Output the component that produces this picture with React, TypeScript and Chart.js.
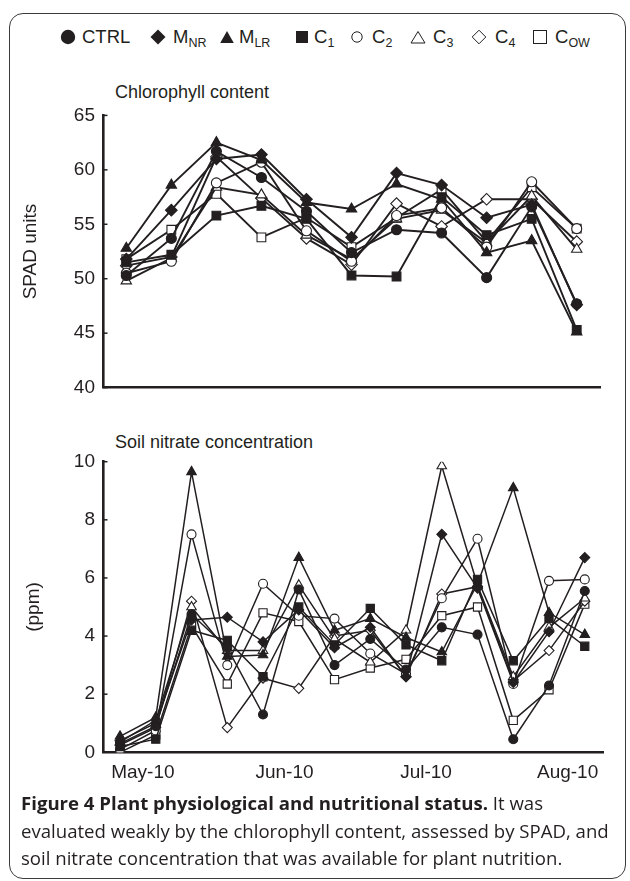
import React, { useEffect, useRef } from "react";
import { Chart, registerables } from "chart.js";
Chart.register(...registerables);

const INK = "#231f20";
const FONT = "'Liberation Sans', Arial, Helvetica, sans-serif";

// ---- series definitions ----
const seriesNames = ["CTRL", "M_NR", "M_LR", "C1", "C2", "C3", "C4", "C_OW"];
const seriesStyles = ["circle", "rectRot", "triangle", "rect", "circle", "triangle", "rectRot", "rect"];
const seriesFilled = [true, true, true, true, false, false, false, false];

// ---- chlorophyll content (SPAD units), 11 samplings ----
const chlSamples = [0, 1, 2, 3, 4, 5, 6, 7, 8, 9, 10];
const chlCTRL = [50.3, 53.7, 61.7, 59.3, 56.2, 52.4, 54.5, 54.2, 50.1, 56.6, 47.7];
const chlMNR = [51.8, 56.3, 61.0, 61.4, 57.3, 53.8, 59.7, 58.6, 55.6, 56.8, 47.6];
const chlMLR = [52.8, 58.6, 62.5, 60.9, 57.0, 56.4, 58.7, 57.3, 52.4, 53.5, 45.1];
const chlC1 = [51.5, 52.2, 55.8, 56.7, 55.5, 50.3, 50.2, 57.5, 54.0, 55.5, 45.3];
const chlC2 = [50.5, 51.6, 58.8, 60.7, 54.4, 51.6, 55.8, 56.5, 52.9, 58.9, 54.6];
const chlC3 = [49.8, 51.9, 58.4, 57.7, 54.0, 51.8, 55.5, 56.3, 53.3, 57.6, 52.7];
const chlC4 = [51.2, 52.0, 61.2, 57.4, 53.7, 51.3, 56.9, 54.8, 57.3, 57.3, 53.4];
const chlCOW = [51.8, 54.5, 57.8, 53.8, 55.6, 52.9, 55.6, 58.2, 53.4, 58.4, 54.6];
const chlTicks = [40, 45, 50, 55, 60, 65];

// ---- soil nitrate concentration (ppm), 14 samplings ----
const no3Samples = [0, 1, 2, 3, 4, 5, 6, 7, 8, 9, 10, 11, 12, 13];
const no3CTRL = [0.3, 0.9, 4.75, 3.6, 1.3, 5.6, 3.0, 3.9, 2.85, 4.3, 4.05, 0.45, 2.3, 5.55];
const no3MNR = [0.4, 1.0, 4.55, 4.65, 3.8, 4.9, 3.6, 4.3, 2.6, 7.5, 5.65, 2.4, 4.15, 6.7];
const no3MLR = [0.55, 1.2, 9.65, 3.3, 3.35, 6.7, 4.2, 4.6, 3.95, 3.45, 5.8, 9.1, 4.8, 4.05];
const no3C1 = [0.2, 0.45, 4.2, 3.85, 2.6, 5.0, 3.7, 4.95, 3.7, 3.15, 5.95, 3.15, 4.6, 3.65];
const no3C2 = [0.1, 0.75, 7.5, 3.0, 5.8, 4.7, 4.6, 3.4, 2.7, 5.3, 7.35, 2.35, 5.9, 5.95];
const no3C3 = [0.35, 1.1, 5.0, 3.5, 3.5, 5.75, 3.9, 3.1, 4.2, 9.85, 5.75, 2.6, 4.3, 5.3];
const no3C4 = [0.25, 0.85, 5.2, 0.85, 2.55, 2.2, 4.0, 4.2, 2.6, 5.45, 5.7, 2.45, 3.5, 5.2];
const no3COW = [0.0, 0.6, 4.35, 2.35, 4.8, 4.5, 2.5, 2.9, 3.2, 4.7, 5.0, 1.1, 2.15, 5.1];
const no3Ticks = [0, 2, 4, 6, 8, 10];

// month tick labels located along the sampling index axis
const monthLabels = ["May-10", "Jun-10", "Jul-10", "Aug-10"];
const monthPositions = [0.64, 4.6, 8.56, 12.52];

type Sizes = Record<string, number>;

function buildDatasets(xs: number[], series: number[][], sizes: Sizes, lw: number) {
  return series.map((vals, k) => ({
    label: seriesNames[k],
    data: vals.map((v, i) => ({ x: xs[i], y: v })),
    borderColor: INK,
    borderWidth: lw,
    pointStyle: seriesStyles[k],
    pointRadius: sizes[seriesStyles[k]],
    pointHoverRadius: sizes[seriesStyles[k]],
    pointBackgroundColor: seriesFilled[k] ? INK : "#ffffff",
    pointBorderColor: INK,
    pointBorderWidth: 1.1,
    tension: 0,
    fill: false,
  }));
}

const inwardTicks = {
  id: "inwardTicks",
  afterDraw(chart: any) {
    const y = chart.scales.y;
    const ctx = chart.ctx;
    ctx.save();
    ctx.strokeStyle = INK;
    ctx.lineWidth = 1.5;
    y.ticks.forEach((t: any) => {
      const py = y.getPixelForValue(t.value);
      ctx.beginPath();
      ctx.moveTo(chart.chartArea.left, py);
      ctx.lineTo(chart.chartArea.left + 4.5, py);
      ctx.stroke();
    });
    ctx.restore();
  },
};

function ChartCanvas({ config, style }: { config: any; style: React.CSSProperties }) {
  const ref = useRef<HTMLCanvasElement | null>(null);
  useEffect(() => {
    if (!ref.current) return;
    const chart = new Chart(ref.current, config);
    return () => chart.destroy();
  }, []);
  return (
    <div style={{ position: "absolute", ...style }}>
      <canvas ref={ref} />
    </div>
  );
}

function topConfig() {
  return {
    type: "line",
    data: {
      datasets: buildDatasets(
        chlSamples,
        [chlCTRL, chlMNR, chlMLR, chlC1, chlC2, chlC3, chlC4, chlCOW],
        { circle: 5, rectRot: 5.8, triangle: 6, rect: 6.2 },
        1.9
      ),
    },
    options: {
      animation: false,
      responsive: true,
      maintainAspectRatio: false,
      layout: { padding: { top: 19, bottom: 11.7, left: 0, right: 30 } },
      plugins: { legend: { display: false }, tooltip: { enabled: false } },
      scales: {
        x: {
          type: "linear",
          min: -0.517,
          max: 10.517,
          grid: { display: false, drawTicks: false },
          border: { display: true, color: INK, width: 2.6 },
          ticks: { display: false },
          afterFit: (s: any) => {
            s.height = 0;
          },
        },
        y: {
          min: 40,
          max: 65,
          afterBuildTicks: (s: any) => {
            s.ticks = chlTicks.map((v) => ({ value: v }));
          },
          grid: { display: false, drawTicks: false },
          border: { display: true, color: INK, width: 2.6 },
          ticks: { color: INK, padding: 8, font: { family: FONT, size: 19 } },
          title: {
            display: true,
            text: "SPAD units",
            color: INK,
            font: { family: FONT, size: 19 },
            padding: { top: 19.6, bottom: 0 },
          },
          afterFit: (s: any) => {
            s.width = 103;
          },
        },
      },
    },
    plugins: [inwardTicks],
  };
}

function bottomConfig() {
  return {
    type: "line",
    data: {
      datasets: buildDatasets(
        no3Samples,
        [no3CTRL, no3MNR, no3MLR, no3C1, no3C2, no3C3, no3C4, no3COW],
        { circle: 4.5, rectRot: 5, triangle: 5.5, rect: 5.8 },
        1.5
      ),
    },
    options: {
      animation: false,
      responsive: true,
      maintainAspectRatio: false,
      layout: { padding: { top: 21.7, bottom: 5.7, left: 0, right: 27 } },
      plugins: { legend: { display: false }, tooltip: { enabled: false } },
      scales: {
        x: {
          type: "linear",
          min: -0.476,
          max: 13.51,
          afterBuildTicks: (s: any) => {
            s.ticks = monthPositions.map((v) => ({ value: v }));
          },
          grid: { display: false, drawTicks: false },
          border: { display: true, color: INK, width: 2.6 },
          ticks: {
            color: INK,
            padding: 9,
            maxRotation: 0,
            autoSkip: false,
            font: { family: FONT, size: 19 },
            callback: (v: number) => {
              const i = monthPositions.indexOf(v);
              return i >= 0 ? monthLabels[i] : "";
            },
          },
          afterFit: (s: any) => {
            s.height = 40;
          },
        },
        y: {
          min: 0,
          max: 10,
          afterBuildTicks: (s: any) => {
            s.ticks = no3Ticks.map((v) => ({ value: v }));
          },
          grid: { display: false, drawTicks: false },
          border: { display: true, color: INK, width: 2.6 },
          ticks: { color: INK, padding: 8, font: { family: FONT, size: 19 } },
          title: {
            display: true,
            text: "(ppm)",
            color: INK,
            font: { family: FONT, size: 19 },
            padding: { top: 22, bottom: 0 },
          },
          afterFit: (s: any) => {
            s.width = 103;
          },
        },
      },
    },
    plugins: [inwardTicks],
  };
}

function Sym({ kind, filled, x }: { kind: string; filled: boolean; x: number }) {
  const fill = filled ? INK : "#fff";
  let shape: React.ReactNode = null;
  if (kind === "circle") {
    shape = filled ? <circle cx={8} cy={8} r={7.2} fill={fill} /> : <circle cx={8} cy={8} r={5.2} fill={fill} stroke={INK} strokeWidth={1} />;
  } else if (kind === "rectRot") {
    shape = filled ? <polygon points="8,0.5 15.5,8 8,15.5 0.5,8" fill={fill} /> : <polygon points="8,1.2 14.8,8 8,14.8 1.2,8" fill={fill} stroke={INK} strokeWidth={1} />;
  } else if (kind === "triangle") {
    shape = filled ? <polygon points="8,2 14.8,14 1.2,14" fill={fill} /> : <polygon points="8,2.5 15,14 1,14" fill={fill} stroke={INK} strokeWidth={1} />;
  } else {
    shape = filled ? <rect x={2} y={2} width={12} height={12} fill={fill} /> : <rect x={1.5} y={1.5} width={13} height={13} fill={fill} stroke={INK} strokeWidth={1} />;
  }
  return (
    <svg width={16} height={16} style={{ position: "absolute", left: x, top: 29 }}>
      {shape}
    </svg>
  );
}

const legendSymX = [59.5, 149.5, 218.5, 294, 349, 410, 471, 532];
const legendTextX = [82, 173, 239, 314, 372, 433, 495, 555];
const legendMain = ["CTRL", "M", "M", "C", "C", "C", "C", "C"];
const legendSub = ["", "NR", "LR", "1", "2", "3", "4", "OW"];

export default function App() {
  return (
    <div
      style={{
        position: "absolute",
        left: 0,
        top: 0,
        width: 630,
        height: 881,
        background: "#fff",
        overflow: "hidden",
        fontFamily: FONT,
        color: INK,
      }}
    >
      <div
        style={{
          position: "absolute",
          left: 9,
          top: 13,
          width: 617,
          height: 866,
          border: "1.5px solid #3c3a3b",
          borderRadius: 14,
          boxSizing: "border-box",
        }}
      />
      {legendMain.map((m, i) => (
        <React.Fragment key={i}>
          <Sym kind={seriesStyles[i]} filled={seriesFilled[i]} x={legendSymX[i]} />
          <div
            style={{
              position: "absolute",
              left: legendTextX[i],
              top: 28,
              fontSize: 18.5,
              lineHeight: "18px",
              whiteSpace: "nowrap",
            }}
          >
            {m}
            {legendSub[i] && (
              <span style={{ fontSize: 12.5, position: "relative", top: 4 }}>{legendSub[i]}</span>
            )}
          </div>
        </React.Fragment>
      ))}
      <div style={{ position: "absolute", left: 115, top: 82.6, fontSize: 18, lineHeight: "18px", whiteSpace: "nowrap" }}>
        Chlorophyll content
      </div>
      <div style={{ position: "absolute", left: 115, top: 432.6, fontSize: 18, lineHeight: "18px", whiteSpace: "nowrap" }}>
        Soil nitrate concentration
      </div>
      <ChartCanvas config={topConfig()} style={{ left: 0, top: 96, width: 630, height: 311 }} />
      <ChartCanvas config={bottomConfig()} style={{ left: 0, top: 440, width: 630, height: 358 }} />
      <div
        style={{
          position: "absolute",
          left: 21,
          top: 789,
          fontFamily: "'Open Sans', 'Noto Sans', sans-serif",
          fontSize: 18.6,
          lineHeight: "27.5px",
          color: INK,
          whiteSpace: "nowrap",
        }}
      >
        <div>
          <b>Figure 4 Plant physiological and nutritional status.</b> It was
        </div>
        <div>evaluated weakly by the chlorophyll content, assessed by SPAD, and</div>
        <div>soil nitrate concentration that was available for plant nutrition.</div>
      </div>
    </div>
  );
}
